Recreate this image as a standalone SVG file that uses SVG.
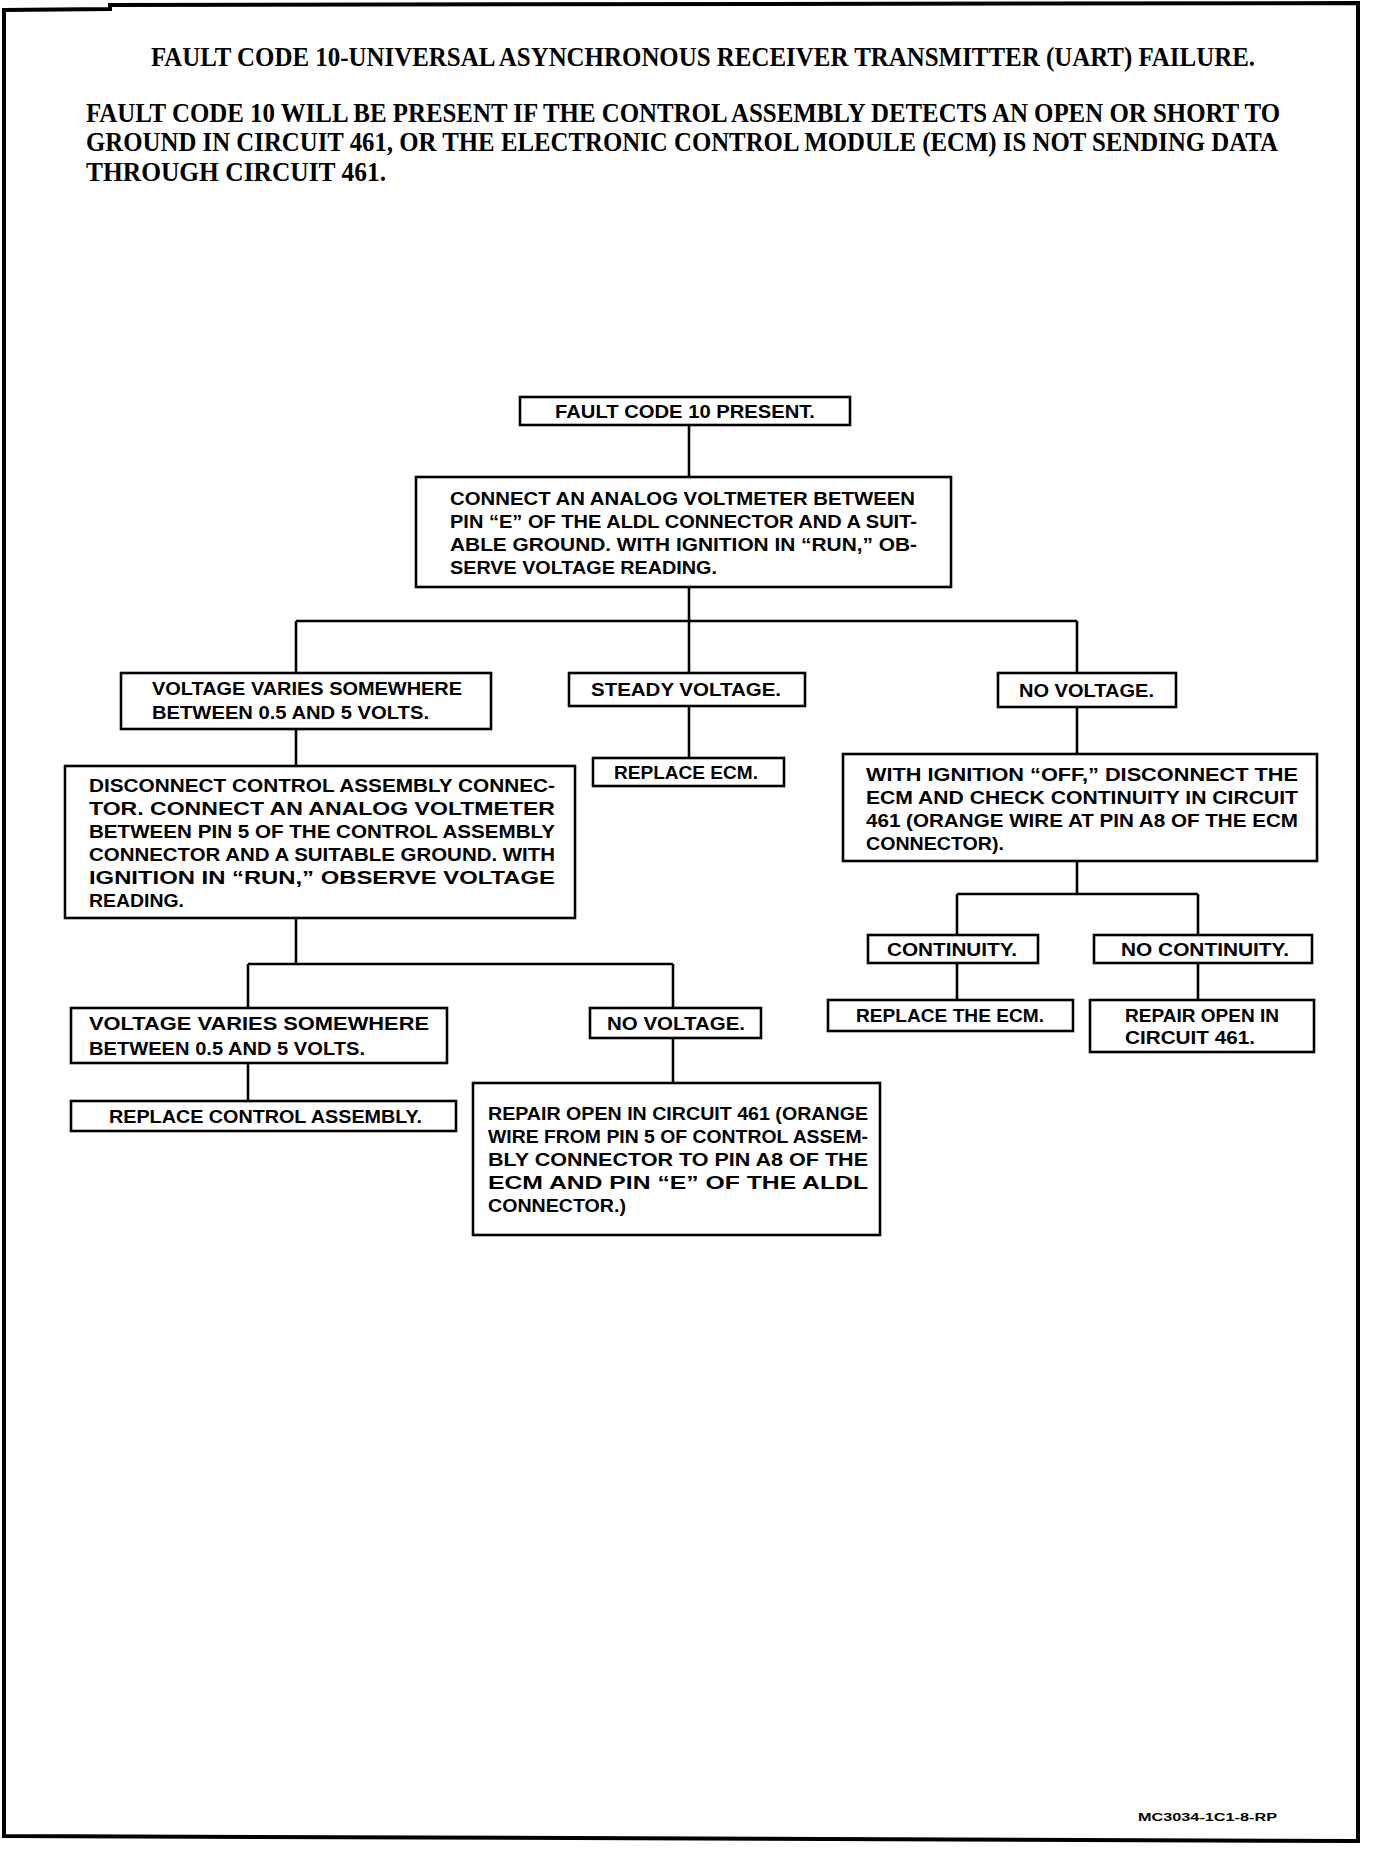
<svg xmlns="http://www.w3.org/2000/svg" width="1392" height="1862" viewBox="0 0 1392 1862">
<style>
.bx{fill:#fff;stroke:#000;stroke-width:2.6}
.ln{fill:none;stroke:#000;stroke-width:2.6}
.t{font-family:"Liberation Sans",Arial,sans-serif;font-weight:bold;font-size:18px;fill:#000}
.h{font-family:"Liberation Serif","Times New Roman",serif;font-weight:bold;font-size:27px;fill:#000}
.code{font-family:"Liberation Sans",Arial,sans-serif;font-weight:bold;font-size:11px;fill:#000}
</style>
<rect width="1392" height="1862" fill="#fff"/>
<path d="M4,1836 L4,10 L110,9 L110,5 L1358,3 L1358,1841 Z" fill="none" stroke="#000" stroke-width="4"/>
<g id="heading">
<text class="h" x="151" y="66" textLength="1104" lengthAdjust="spacingAndGlyphs">FAULT CODE 10-UNIVERSAL ASYNCHRONOUS RECEIVER TRANSMITTER (UART) FAILURE.</text>
<text class="h" x="86" y="122" textLength="1194" lengthAdjust="spacingAndGlyphs">FAULT CODE 10 WILL BE PRESENT IF THE CONTROL ASSEMBLY DETECTS AN OPEN OR SHORT TO</text>
<text class="h" x="86" y="151" textLength="1192" lengthAdjust="spacingAndGlyphs">GROUND IN CIRCUIT 461, OR THE ELECTRONIC CONTROL MODULE (ECM) IS NOT SENDING DATA</text>
<text class="h" x="86" y="181" textLength="300" lengthAdjust="spacingAndGlyphs">THROUGH CIRCUIT 461.</text>
</g>
<g id="connectors">
<path class="ln" d="M689,425 V477"/>
<path class="ln" d="M689,587 V621 M296,621 H1077 M296,621 V673 M689,621 V673 M1077,621 V673"/>
<path class="ln" d="M689,706 V758"/>
<path class="ln" d="M296,729 V766"/>
<path class="ln" d="M1077,707 V754"/>
<path class="ln" d="M1077,861 V894 M957,894 H1198 M957,894 V935 M1198,894 V935"/>
<path class="ln" d="M957,963 V1000 M1198,963 V1000"/>
<path class="ln" d="M296,918 V964 M248,964 H673 M248,964 V1008 M673,964 V1008"/>
<path class="ln" d="M248,1063 V1101 M673,1038 V1083"/>
</g>
<g id="n1"><rect class="bx" x="520" y="397" width="330" height="28"/>
<text class="t" x="555" y="418" textLength="260" lengthAdjust="spacingAndGlyphs">FAULT CODE 10 PRESENT.</text></g>
<g id="n2"><rect class="bx" x="416" y="477" width="535" height="110"/>
<text class="t" x="450" y="505" textLength="465" lengthAdjust="spacingAndGlyphs">CONNECT AN ANALOG VOLTMETER BETWEEN</text>
<text class="t" x="450" y="528" textLength="467" lengthAdjust="spacingAndGlyphs">PIN “E” OF THE ALDL CONNECTOR AND A SUIT-</text>
<text class="t" x="450" y="551" textLength="467" lengthAdjust="spacingAndGlyphs">ABLE GROUND. WITH IGNITION IN “RUN,” OB-</text>
<text class="t" x="450" y="574" textLength="267" lengthAdjust="spacingAndGlyphs">SERVE VOLTAGE READING.</text></g>
<g id="n3"><rect class="bx" x="121" y="673" width="370" height="56"/>
<text class="t" x="152" y="695" textLength="310" lengthAdjust="spacingAndGlyphs">VOLTAGE VARIES SOMEWHERE</text>
<text class="t" x="152" y="719" textLength="277" lengthAdjust="spacingAndGlyphs">BETWEEN 0.5 AND 5 VOLTS.</text></g>
<g id="n4"><rect class="bx" x="569" y="673" width="236" height="33"/>
<text class="t" x="591" y="696" textLength="190" lengthAdjust="spacingAndGlyphs">STEADY VOLTAGE.</text></g>
<g id="n5"><rect class="bx" x="998" y="673" width="178" height="34"/>
<text class="t" x="1019" y="697" textLength="135" lengthAdjust="spacingAndGlyphs">NO VOLTAGE.</text></g>
<g id="n6"><rect class="bx" x="593" y="758" width="191" height="28"/>
<text class="t" x="614" y="779" textLength="144" lengthAdjust="spacingAndGlyphs">REPLACE ECM.</text></g>
<g id="n7"><rect class="bx" x="65" y="766" width="510" height="152"/>
<text class="t" x="89" y="792" textLength="466" lengthAdjust="spacingAndGlyphs">DISCONNECT CONTROL ASSEMBLY CONNEC-</text>
<text class="t" x="89" y="815" textLength="466" lengthAdjust="spacingAndGlyphs">TOR. CONNECT AN ANALOG VOLTMETER</text>
<text class="t" x="89" y="838" textLength="466" lengthAdjust="spacingAndGlyphs">BETWEEN PIN 5 OF THE CONTROL ASSEMBLY</text>
<text class="t" x="89" y="861" textLength="466" lengthAdjust="spacingAndGlyphs">CONNECTOR AND A SUITABLE GROUND. WITH</text>
<text class="t" x="89" y="884" textLength="466" lengthAdjust="spacingAndGlyphs">IGNITION IN “RUN,” OBSERVE VOLTAGE</text>
<text class="t" x="89" y="907" textLength="95" lengthAdjust="spacingAndGlyphs">READING.</text></g>
<g id="n8"><rect class="bx" x="843" y="754" width="474" height="107"/>
<text class="t" x="866" y="781" textLength="432" lengthAdjust="spacingAndGlyphs">WITH IGNITION “OFF,” DISCONNECT THE</text>
<text class="t" x="866" y="804" textLength="432" lengthAdjust="spacingAndGlyphs">ECM AND CHECK CONTINUITY IN CIRCUIT</text>
<text class="t" x="866" y="827" textLength="432" lengthAdjust="spacingAndGlyphs">461 (ORANGE WIRE AT PIN A8 OF THE ECM</text>
<text class="t" x="866" y="850" textLength="138" lengthAdjust="spacingAndGlyphs">CONNECTOR).</text></g>
<g id="n9"><rect class="bx" x="868" y="935" width="170" height="28"/>
<text class="t" x="887" y="956" textLength="130" lengthAdjust="spacingAndGlyphs">CONTINUITY.</text></g>
<g id="n10"><rect class="bx" x="1094" y="935" width="218" height="28"/>
<text class="t" x="1121" y="956" textLength="168" lengthAdjust="spacingAndGlyphs">NO CONTINUITY.</text></g>
<g id="n11"><rect class="bx" x="828" y="1000" width="245" height="31"/>
<text class="t" x="856" y="1022" textLength="188" lengthAdjust="spacingAndGlyphs">REPLACE THE ECM.</text></g>
<g id="n12"><rect class="bx" x="1090" y="1000" width="224" height="52"/>
<text class="t" x="1125" y="1022" textLength="154" lengthAdjust="spacingAndGlyphs">REPAIR OPEN IN</text>
<text class="t" x="1125" y="1044" textLength="130" lengthAdjust="spacingAndGlyphs">CIRCUIT 461.</text></g>
<g id="n13"><rect class="bx" x="71" y="1008" width="376" height="55"/>
<text class="t" x="89" y="1030" textLength="340" lengthAdjust="spacingAndGlyphs">VOLTAGE VARIES SOMEWHERE</text>
<text class="t" x="89" y="1055" textLength="276" lengthAdjust="spacingAndGlyphs">BETWEEN 0.5 AND 5 VOLTS.</text></g>
<g id="n14"><rect class="bx" x="590" y="1008" width="171" height="30"/>
<text class="t" x="607" y="1030" textLength="138" lengthAdjust="spacingAndGlyphs">NO VOLTAGE.</text></g>
<g id="n15"><rect class="bx" x="71" y="1101" width="385" height="30"/>
<text class="t" x="109" y="1123" textLength="313" lengthAdjust="spacingAndGlyphs">REPLACE CONTROL ASSEMBLY.</text></g>
<g id="n16"><rect class="bx" x="473" y="1083" width="407" height="152"/>
<text class="t" x="488" y="1120" textLength="380" lengthAdjust="spacingAndGlyphs">REPAIR OPEN IN CIRCUIT 461 (ORANGE</text>
<text class="t" x="488" y="1143" textLength="380" lengthAdjust="spacingAndGlyphs">WIRE FROM PIN 5 OF CONTROL ASSEM-</text>
<text class="t" x="488" y="1166" textLength="380" lengthAdjust="spacingAndGlyphs">BLY CONNECTOR TO PIN A8 OF THE</text>
<text class="t" x="488" y="1189" textLength="380" lengthAdjust="spacingAndGlyphs">ECM AND PIN “E” OF THE ALDL</text>
<text class="t" x="488" y="1212" textLength="138" lengthAdjust="spacingAndGlyphs">CONNECTOR.)</text></g>
<text class="code" x="1138" y="1821" textLength="139" lengthAdjust="spacingAndGlyphs">MC3034-1C1-8-RP</text>
</svg>
